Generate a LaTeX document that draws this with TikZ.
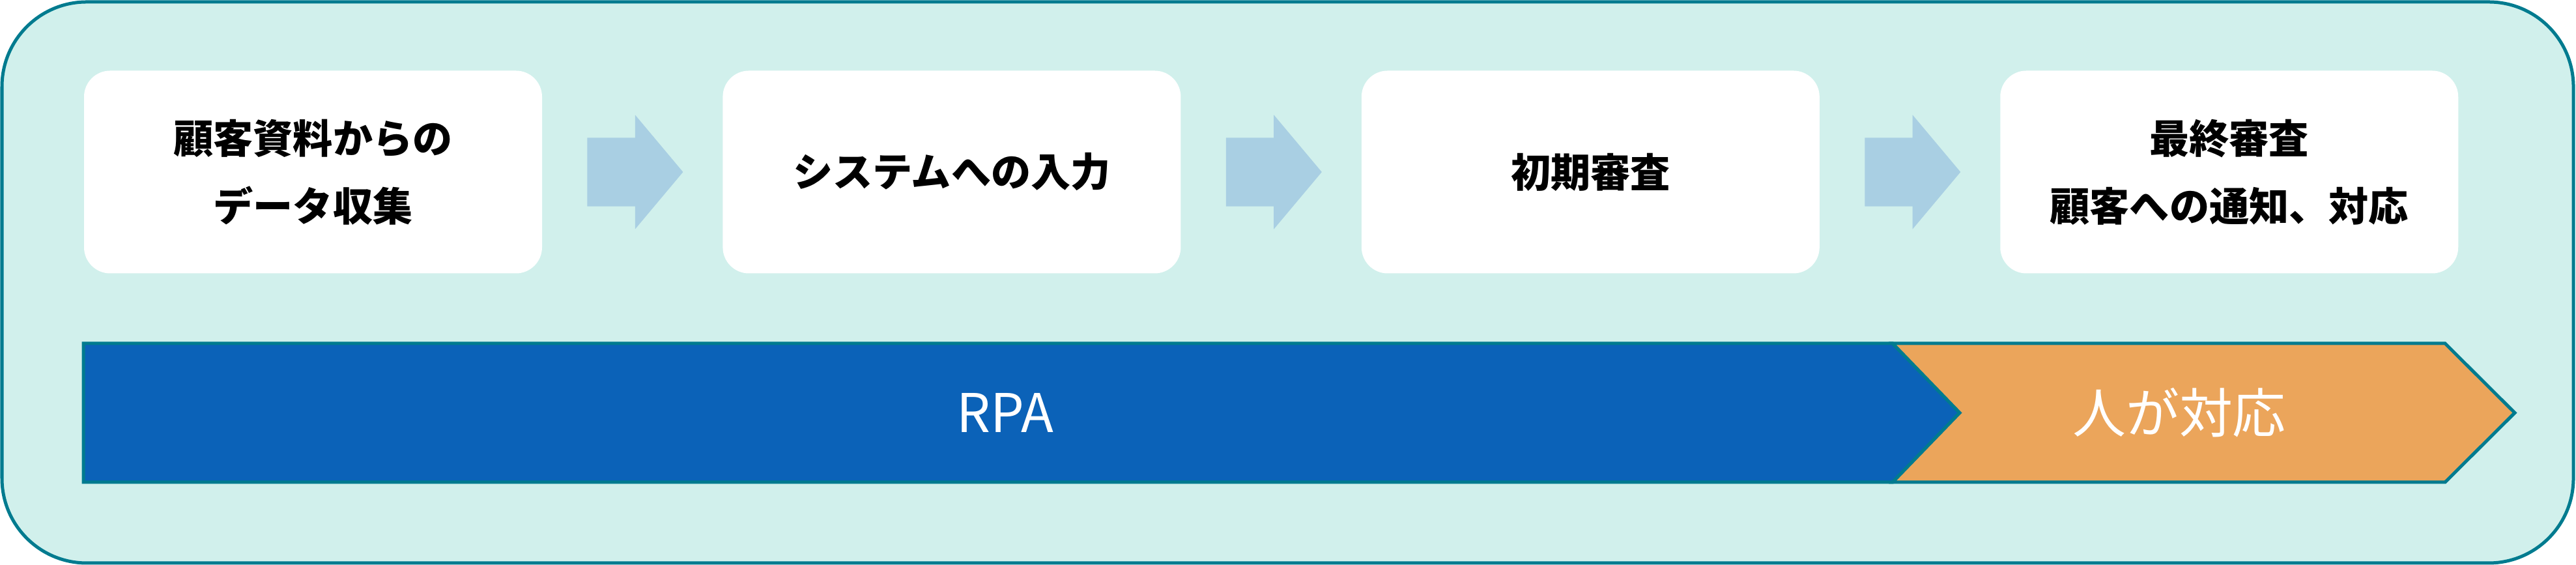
\documentclass[tikz,border=0pt]{standalone}
\usepackage{fontspec}
\setmainfont{Noto Sans CJK JP}
\usetikzlibrary{positioning, shapes.arrows}

\definecolor{frameteal}{HTML}{007B8F}
\definecolor{framefill}{HTML}{D1F0EC}
\definecolor{arrowblue}{HTML}{A9CFE3}
\definecolor{rpablue}{HTML}{0B62B8}
\definecolor{humanorange}{HTML}{EBA55B}

\tikzset{
  stepbox/.style={fill=white, rounded corners=0.4cm, minimum width=7.03cm, minimum height=3.11cm,
    inner sep=0pt, align=center, font=\bfseries\fontsize{17.4}{29.6}\selectfont},
  flowarrow/.style={single arrow, fill=arrowblue, minimum height=1.47cm,
    inner xsep=0pt, inner ysep=0.52cm, single arrow head extend=0.35cm, single arrow tip angle=100},
  barlabel/.style={text=white, font=\fontsize{23.3}{28}\selectfont},
  barshape/.style={draw=frameteal, line width=0.05cm, line join=miter},
}

\begin{document}
\begin{tikzpicture}
            \useasboundingbox (0,0) rectangle (39.54,8.67);
            \draw[frameteal, line width=0.05cm, fill=framefill, rounded corners=1.3cm] (0.03,0.03) rectangle (39.50,8.64);
            % process steps
            \node[stepbox] (collect) at (4.805,6.03) {顧客資料からの\\データ収集};
            \node[stepbox, right=2.76cm of collect] (input) {システムへの入力};
            \node[stepbox, right=2.76cm of input] (review) {初期審査};
            \node[stepbox, right=2.76cm of review] (final) {最終審査\\顧客への通知、対応};
            \node[flowarrow, right=0.68cm of collect] (arr1) {};
            \node[flowarrow, right=0.68cm of input] (arr2) {};
            \node[flowarrow, right=0.68cm of review] (arr3) {};
            % who does it
            \path[barshape, fill=rpablue] (1.28,3.40) -- (29.05,3.40) -- (30.08,2.335) -- (29.05,1.27) -- (1.28,1.27) -- cycle;
            \path[barshape, fill=humanorange] (29.05,3.40) -- (37.53,3.40) -- (38.60,2.335) -- (37.53,1.27) -- (29.05,1.27) -- (30.08,2.335) -- cycle;
            \node[barlabel] (rpa) at (15.43,2.335) {RPA};
            \node[barlabel] (human) at (33.45,2.335) {人が対応};
        \end{tikzpicture}
\end{document}
